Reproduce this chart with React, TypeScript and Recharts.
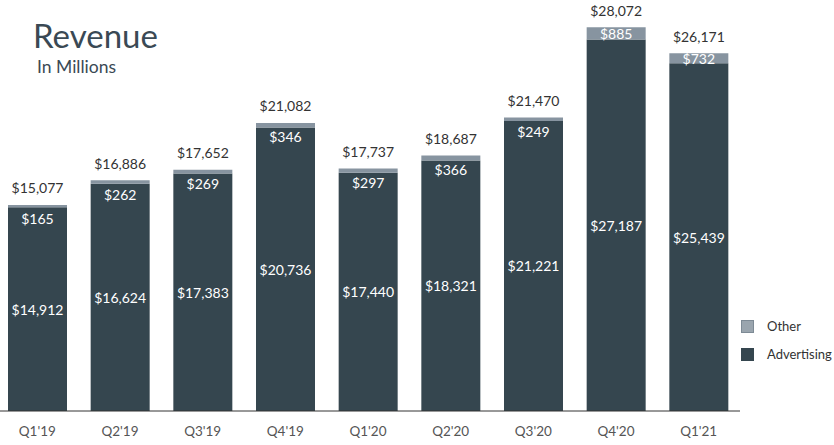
import React from 'react';
import { BarChart, Bar, XAxis, YAxis, LabelList } from 'recharts';

const quarters = ["Q1'19", "Q2'19", "Q3'19", "Q4'19", "Q1'20", "Q2'20", "Q3'20", "Q4'20", "Q1'21"];
const advertising = [14912, 16624, 17383, 20736, 17440, 18321, 21221, 27187, 25439];
const other = [165, 262, 269, 346, 297, 366, 249, 885, 732];
const totals = [15077, 16886, 17652, 21082, 17737, 18687, 21470, 28072, 26171];

const data = quarters.map((q, i) => ({ q, advertising: advertising[i], other: other[i], total: totals[i] }));

const ADV = '#35464f';
const OTH = '#8794a0';
const FONT = 'Lato, "Open Sans", sans-serif';
const fmt = (v: number) => '$' + v.toLocaleString('en-US');

const OtherLabel = (props: any) => {
  const { x, y, width, height, index } = props;
  const cy = height >= 9 ? y + height / 2 : y + 14;
  return (
    <g>
      <text x={x + width / 2} y={cy} textAnchor="middle" dominantBaseline="central" fill="#ffffff" fontSize={14} fontFamily={FONT}>
        {fmt(other[index])}
      </text>
      <text x={x + width / 2} y={y - 17} textAnchor="middle" dominantBaseline="central" fill="#333333" fontSize={14} fontFamily={FONT}>
        {fmt(totals[index])}
      </text>
    </g>
  );
};

const AdvLabel = (props: any) => {
  const { x, y, width, height, index } = props;
  return (
    <text x={x + width / 2} y={y + height / 2} textAnchor="middle" dominantBaseline="central" fill="#ffffff" fontSize={14} fontFamily={FONT}>
      {fmt(advertising[index])}
    </text>
  );
};

export default function App() {
  return (
    <div style={{ position: 'absolute', left: 0, top: 0, width: 834, height: 445, overflow: 'hidden', background: '#fff', fontFamily: FONT }}>
      <div style={{ position: 'absolute', left: 33, top: 19, fontSize: 33, color: '#3a4954', lineHeight: 1 }}>Revenue</div>
      <div style={{ position: 'absolute', left: 37, top: 58, fontSize: 17.5, color: '#3a4954', lineHeight: 1 }}>In Millions</div>
      <div style={{ position: 'absolute', left: -4, top: 0 }}>
        <BarChart width={760} height={445} data={data} margin={{ top: 1, right: 16, left: 0, bottom: 4 }} barSize={59}>
          <XAxis
            dataKey="q"
            height={30}
            tickLine={false}
            axisLine={{ stroke: '#333', strokeWidth: 1 }}
            tick={{ fill: '#555', fontSize: 13.5, fontFamily: FONT }}
            tickMargin={9}
            interval={0}
          />
          <YAxis hide domain={[0, 30000]} />
          <Bar dataKey="advertising" stackId="a" fill={ADV} isAnimationActive={false}>
            <LabelList dataKey="advertising" content={AdvLabel} />
          </Bar>
          <Bar dataKey="other" stackId="a" fill={OTH} isAnimationActive={false}>
            <LabelList dataKey="other" content={OtherLabel} />
          </Bar>
        </BarChart>
      </div>
      <div style={{ position: 'absolute', left: 741, top: 320, width: 13, height: 13, background: '#9aa5ae', border: '1px solid #7d8a95', boxSizing: 'border-box' }} />
      <div style={{ position: 'absolute', left: 767, top: 318, fontSize: 13, color: '#333', lineHeight: '16px' }}>Other</div>
      <div style={{ position: 'absolute', left: 741, top: 348, width: 13, height: 13, background: ADV }} />
      <div style={{ position: 'absolute', left: 767, top: 346, fontSize: 13, color: '#333', lineHeight: '16px' }}>Advertising</div>
    </div>
  );
}
